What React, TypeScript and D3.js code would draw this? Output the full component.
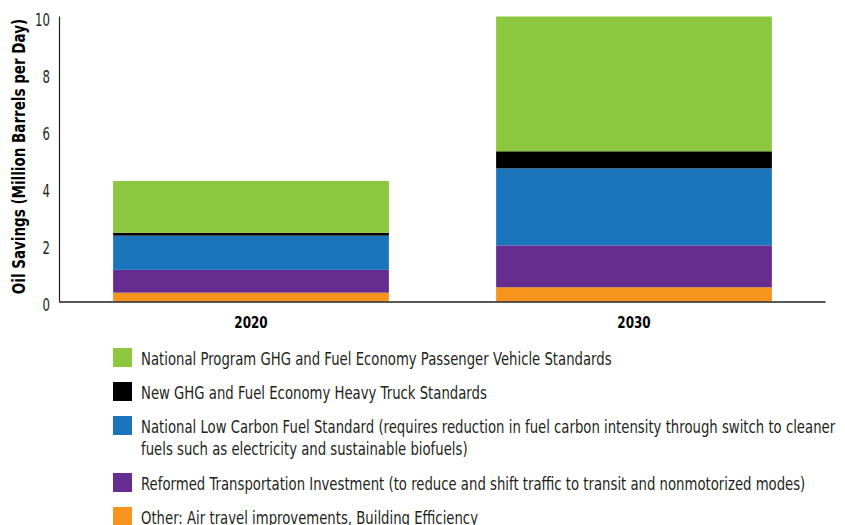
import React, { useEffect, useRef } from 'react';
import * as d3 from 'd3';

const years = ['2020', '2030'];

// stacked bottom to top
const seriesKeys = ['Other', 'Reformed', 'LowCarbon', 'HeavyTruck', 'NationalProgram'];
const otherValues = [0.31, 0.5];
const reformedValues = [0.8, 1.47];
const lowCarbonValues = [1.2, 2.7];
const heavyTruckValues = [0.1, 0.6];
const nationalProgramValues = [1.82, 4.73];

const yTicks = [0, 2, 4, 6, 8, 10];

const SERIES_COLORS: Record<string, string> = {
  Other: '#f7941d',
  Reformed: '#662d91',
  LowCarbon: '#1b75bc',
  HeavyTruck: '#000000',
  NationalProgram: '#8dc63f'
};

// legend order top to bottom
const legendKeys = ['NationalProgram', 'HeavyTruck', 'LowCarbon', 'Reformed', 'Other'];
const legendLabels: string[][] = [
  ['National Program GHG and Fuel Economy Passenger Vehicle Standards'],
  ['New GHG and Fuel Economy Heavy Truck Standards'],
  [
    'National Low Carbon Fuel Standard (requires reduction in fuel carbon intensity through switch to cleaner',
    'fuels such as electricity and sustainable biofuels)'
  ],
  ['Reformed Transportation Investment (to reduce and shift traffic to transit and nonmotorized modes)'],
  ['Other: Air travel improvements, Building Efficiency']
];

// no condensed face installed, so squeeze DejaVu horizontally
const FONT = '"DejaVu Sans", sans-serif';

const App: React.FC = () => {
  const svgRef = useRef<SVGSVGElement>(null);

  useEffect(() => {
    document.body.style.margin = '0';
    if (!svgRef.current) {
      return;
    }
    const width = 845;
    const height = 525;
    const svg = d3.select(svgRef.current);
    svg.selectAll('*').remove();
    svg.attr('width', width).attr('height', height).style('font-family', FONT);

    const table = years.map((year, i) => ({
      year,
      Other: otherValues[i],
      Reformed: reformedValues[i],
      LowCarbon: lowCarbonValues[i],
      HeavyTruck: heavyTruckValues[i],
      NationalProgram: nationalProgramValues[i]
    }));

    const x = d3.scaleBand<string>().domain(years).range([59.5, 825.5]).paddingInner(0.28).paddingOuter(0.14);
    const y = d3.scaleLinear().domain([0, 10]).range([301.5, 16.5]);

    const layers = d3.stack<any>().keys(seriesKeys)(table);

    svg
      .append('g')
      .selectAll('g')
      .data(layers)
      .enter()
      .append('g')
      .attr('fill', (d) => SERIES_COLORS[d.key])
      .selectAll('rect')
      .data((d) => d)
      .enter()
      .append('rect')
      .attr('x', (d) => x(d.data.year) as number)
      .attr('width', x.bandwidth())
      .attr('y', (d) => y(d[1]))
      .attr('height', (d) => y(d[0]) - y(d[1]));

    // axes lines
    svg
      .append('line')
      .attr('x1', 59.5)
      .attr('x2', 59.5)
      .attr('y1', y(10))
      .attr('y2', y(0))
      .attr('stroke', '#231f20')
      .attr('stroke-width', 1.2);
    svg
      .append('line')
      .attr('x1', 59)
      .attr('x2', 825.5)
      .attr('y1', y(0) + 0.5)
      .attr('y2', y(0) + 0.5)
      .attr('stroke', '#231f20')
      .attr('stroke-width', 1.6);

    svg
      .append('g')
      .selectAll('text')
      .data(yTicks)
      .enter()
      .append('text')
      .attr('transform', (d) => `translate(50, ${y(d) + 9.5}) scale(0.65, 1)`)
      .attr('text-anchor', 'end')
      .attr('font-size', '18px')
      .attr('fill', '#231f20')
      .text((d) => d);

    svg
      .append('g')
      .selectAll('text')
      .data(years)
      .enter()
      .append('text')
      .attr('transform', (d) => `translate(${(x(d) as number) + x.bandwidth() / 2}, 328) scale(0.75, 1)`)
      .attr('text-anchor', 'middle')
      .attr('font-size', '16px')
      .attr('font-weight', '700')
      .attr('fill', '#000')
      .text((d) => d);

    svg
      .append('text')
      .attr('transform', `translate(25, 156.5) rotate(-90) scale(0.75, 1)`)
      .attr('text-anchor', 'middle')
      .attr('font-size', '18px')
      .attr('font-weight', '700')
      .attr('fill', '#000')
      .text('Oil Savings (Million Barrels per Day)');

    // legend
    const rowTops = [348, 382, 416, 473, 507];
    legendKeys.forEach((key, i) => {
      const g = svg.append('g').attr('transform', `translate(113, ${rowTops[i]})`);
      g.append('rect').attr('width', 19).attr('height', 19).attr('fill', SERIES_COLORS[key]);
      legendLabels[i].forEach((line, j) => {
        g.append('text')
          .attr('transform', `translate(28, ${16.5 + j * 22}) scale(0.757, 1)`)
          .attr('font-size', '17.5px')
          .attr('fill', '#231f20')
          .text(line);
      });
    });
  }, []);

  return <svg ref={svgRef} style={{ display: 'block' }} />;
};

export default App;
